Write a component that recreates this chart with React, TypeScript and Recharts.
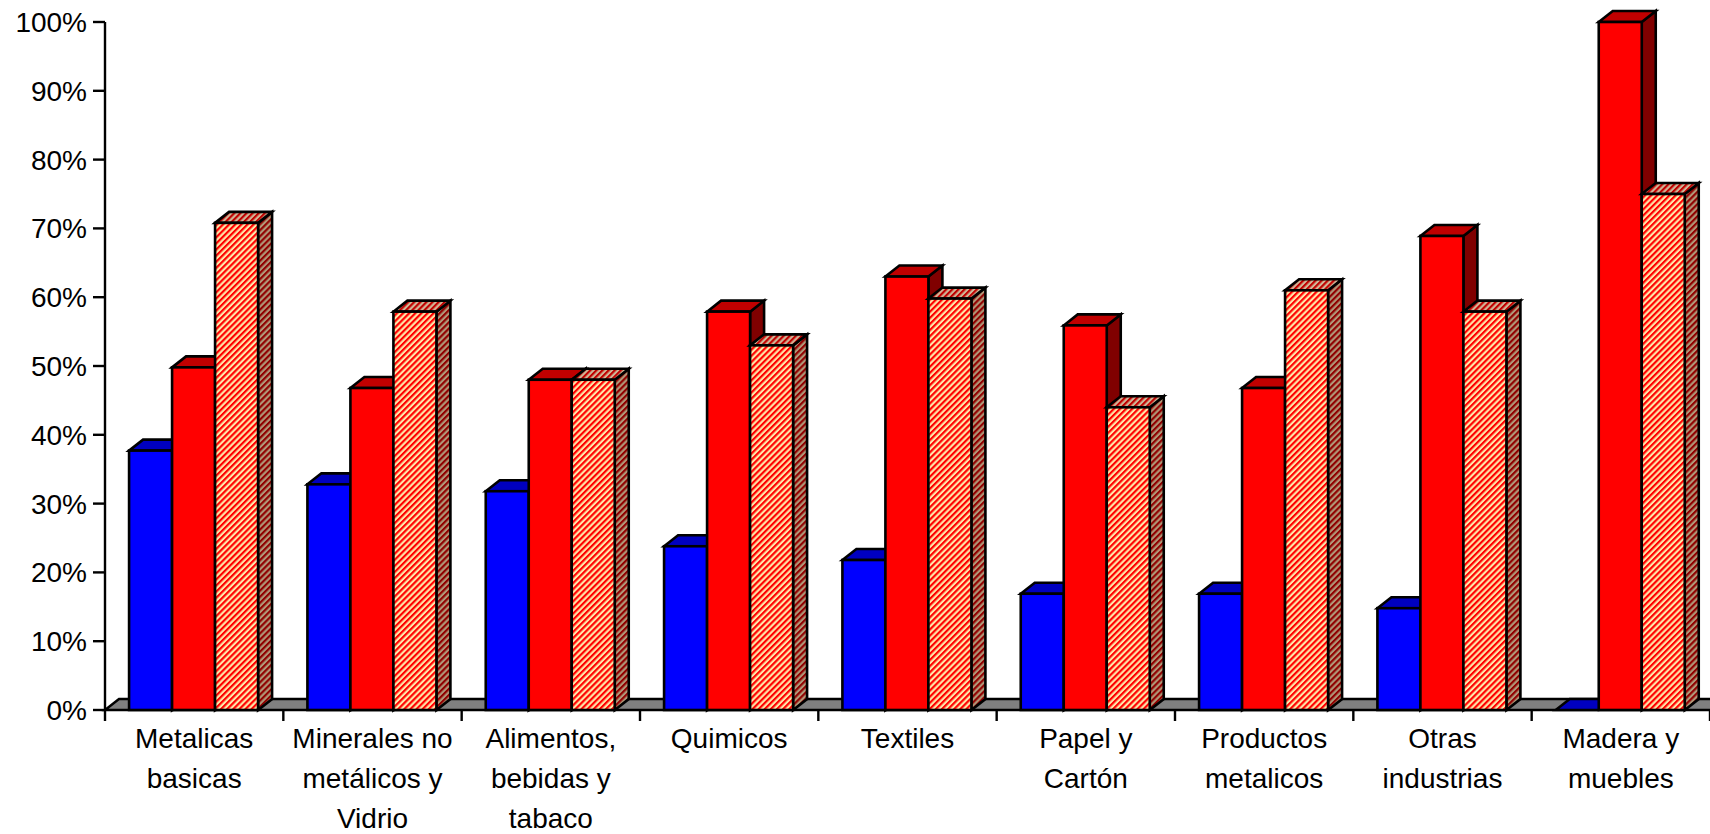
import React from "react";
import { BarChart, Bar, XAxis, YAxis, ReferenceArea } from "recharts";

const categories = [
  "Metalicas|basicas",
  "Minerales no|metálicos y|Vidrio",
  "Alimentos,|bebidas y|tabaco",
  "Quimicos",
  "Textiles",
  "Papel y|Cartón",
  "Productos|metalicos",
  "Otras|industrias",
  "Madera y|muebles",
];
const blueValues = [37.7, 32.8, 31.8, 23.8, 21.8, 16.9, 16.9, 14.8, 0];
const redValues = [49.8, 46.8, 48, 57.9, 63, 55.9, 46.8, 68.9, 100];
const hatchValues = [70.8, 57.9, 48, 53, 59.8, 44, 61, 57.9, 75];
const yTicks = [0, 10, 20, 30, 40, 50, 60, 70, 80, 90, 100];

const data = categories.map((name, i) => ({
  name,
  blue: blueValues[i],
  red: redValues[i],
  hatch: hatchValues[i],
}));

const DX = 14;
const DY = 11;
const FONT = "'Liberation Sans', Arial, sans-serif";

const make3D = (front: string, top: string, side: string) => (props: any) => {
  const { x, y, width, height } = props;
  const w = width;
  const h = Math.max(height, 0);
  return (
    <g stroke="#000" strokeWidth={2.6} strokeLinejoin="miter">
      <path d={`M${x + w},${y} l${DX},${-DY} v${h} l${-DX},${DY} z`} fill={side} />
      <path d={`M${x},${y} l${DX},${-DY} h${w} l${-DX},${DY} z`} fill={top} />
      <rect x={x} y={y} width={w} height={h} fill={front} />
    </g>
  );
};

const Floor = (props: any) => {
  const { x, y, width, height } = props;
  return (
    <path
      d={`M${x},${y + height} L${x + DX},${y} H${x + width + DX} V${y + height} Z`}
      fill="#808080"
      stroke="#000"
      strokeWidth={2.4}
    />
  );
};

const CategoryTick = (props: any) => {
  const { x, y, payload, index, visibleTicksCount } = props;
  const band = 178.33;
  const lines = String(payload.value).split("|");
  return (
    <g>
      <line x1={x - band / 2} x2={x - band / 2} y1={y - 8} y2={y + 3} stroke="#000" strokeWidth={2.4} />
      {index === visibleTicksCount - 1 ? (
        <line x1={x + band / 2} x2={x + band / 2} y1={y - 8} y2={y + 3} stroke="#000" strokeWidth={2.4} />
      ) : null}
      <text x={x} textAnchor="middle" fontFamily={FONT} fontSize={28} fill="#000">
        {lines.map((l: string, i: number) => (
          <tspan key={i} x={x} y={y + 30 + i * 40}>
            {l}
          </tspan>
        ))}
      </text>
    </g>
  );
};

export default function App() {
  return (
    <div style={{ position: "fixed", left: 0, top: 0, width: 1710, height: 834, background: "#fff" }}>
      <BarChart
        width={1710}
        height={834}
        data={data}
        margin={{ top: 22, right: 0, bottom: 0, left: 0 }}
        barCategoryGap="13.5%"
        barGap={0}
        style={{ overflow: "visible" }}
      >
        <defs>
          <pattern id="hatchFront" width="6" height="6" patternUnits="userSpaceOnUse" patternTransform="rotate(45) scale(0.72)">
            <rect width="6" height="6" fill="#FFE6A8" />
            <rect width="3" height="6" fill="#FF0000" />
          </pattern>
          <pattern id="hatchTop" width="6" height="6" patternUnits="userSpaceOnUse" patternTransform="rotate(45) scale(0.72)">
            <rect width="6" height="6" fill="#D0B898" />
            <rect width="3" height="6" fill="#C00000" />
          </pattern>
          <pattern id="hatchSide" width="6" height="6" patternUnits="userSpaceOnUse" patternTransform="rotate(45) scale(0.72)">
            <rect width="6" height="6" fill="#B09878" />
            <rect width="3" height="6" fill="#900000" />
          </pattern>
        </defs>
        <ReferenceArea y1={0} y2={1.6} shape={<Floor />} ifOverflow="visible" />
        <XAxis
          dataKey="name"
          interval={0}
          height={124}
          axisLine={false}
          tickLine={false}
          tick={<CategoryTick />}
          tickSize={0}
          tickMargin={8}
        />
        <YAxis
          width={105}
          domain={[0, 100]}
          ticks={yTicks}
          interval={0}
          tickFormatter={(v: number) => `${v}%`}
          axisLine={{ stroke: "#000", strokeWidth: 2.4 }}
          tickLine={{ stroke: "#000", strokeWidth: 2.4 }}
          tickSize={12}
          tickMargin={6}
          tick={{ fill: "#000", fontSize: 28, fontFamily: FONT }}
        />
        <Bar dataKey="blue" isAnimationActive={false} shape={make3D("#0000FF", "#0000C0", "#000080")} />
        <Bar dataKey="red" isAnimationActive={false} shape={make3D("#FF0000", "#C00000", "#800000")} />
        <Bar dataKey="hatch" isAnimationActive={false} shape={make3D("url(#hatchFront)", "url(#hatchTop)", "url(#hatchSide)")} />
      </BarChart>
    </div>
  );
}
